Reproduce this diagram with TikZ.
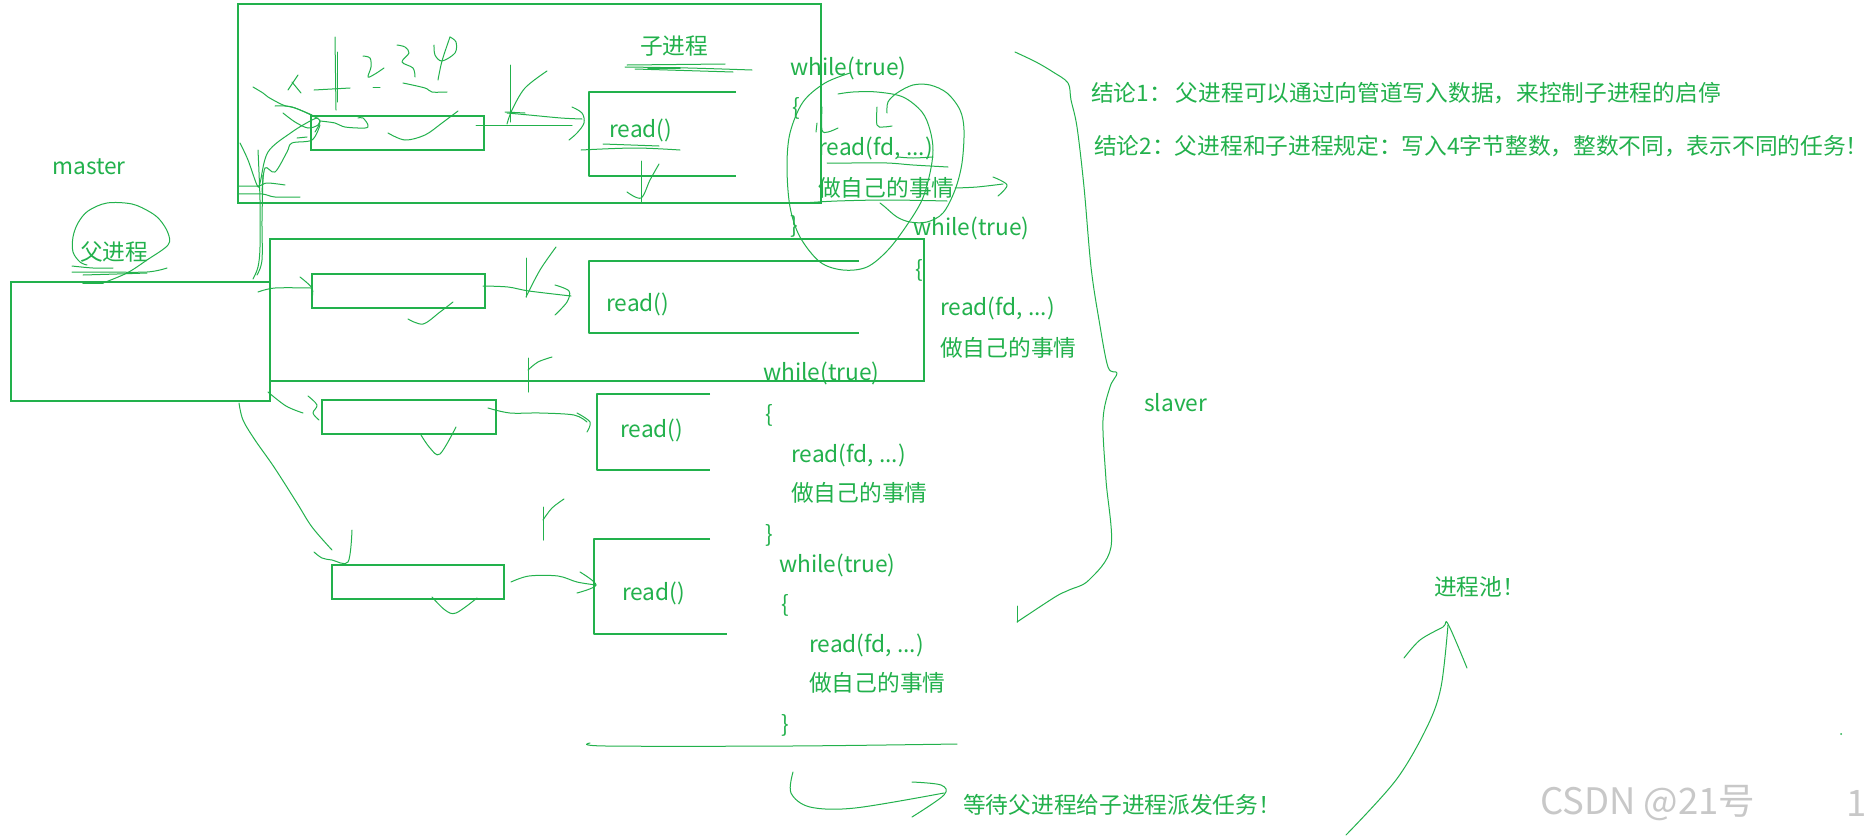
\documentclass[tikz,border=0pt]{standalone}
\usepackage{fontspec}
\setmainfont{Noto Sans CJK SC}
\definecolor{pgreen}{RGB}{34,177,76}
\definecolor{wmgray}{RGB}{200,200,200}
\newcommand{\fsz}{\fontsize{22.7}{27}\selectfont}
\tikzset{
  pen/.style={draw=pgreen, line width=1pt, line cap=round, line join=round},
  box/.style={draw=pgreen, line width=1.4pt, inner sep=0pt, outer sep=0pt, anchor=north west},
  txt/.style={text=pgreen, inner sep=0pt, anchor=west, font=\fsz},
  hs/.style={pen, smooth, tension=0.55},
}
\begin{document}
\begin{tikzpicture}[x=1pt,y=-1pt]
\useasboundingbox (0,0) rectangle (1869,836);
\fill[white] (0,0) rectangle (1869,836);

% ---------- boxes ----------
\node[box, minimum width=583pt, minimum height=199pt] (top) at (238,4) {};
\node[box, minimum width=654pt, minimum height=142pt] (mid) at (270,239) {};
\node[box, minimum width=259pt, minimum height=119pt] (parent) at (11,282) {};
\node[box, minimum width=173pt, minimum height=34pt] (s1) at (311,116) {};
\node[box, minimum width=173pt, minimum height=34pt] (s2) at (312,274) {};
\node[box, minimum width=174pt, minimum height=34pt] (s3) at (322,400) {};
\node[box, minimum width=172pt, minimum height=34pt] (s4) at (332,565) {};
\draw[pen, line width=1.4pt, line cap=butt] (736,92) -- (589,92) -- (589,176) -- (736,176);
\draw[pen, line width=1.4pt, line cap=butt] (859,261) -- (589,261) -- (589,333) -- (859,333);
\draw[pen, line width=1.4pt, line cap=butt] (710,394) -- (597,394) -- (597,470) -- (710,470);
\draw[pen, line width=1.4pt, line cap=butt] (710,539) -- (594,539) -- (594,634) -- (727,634);

% ---------- texts ----------
\node[txt] (master) at (52,167) {master};
\node[txt] (fu) at (80,252) {父进程};
\node[txt] (zi) at (640,46) {子进程};
\node[txt] (rd1) at (609,130) {read()};
\node[txt] (rd2) at (606,304) {read()};
\node[txt] (rd3) at (620,430) {read()};
\node[txt] (rd4) at (622,593) {read()};

\node[txt] (wa) at (790,68) {while(true)};
\node[txt] (wab) at (792,108) {\{};
\node[txt] (war) at (818,148) {read(fd, ...)};
\node[txt] (waz) at (818,188) {做自己的事情};
\node[txt] (wae) at (790,226) {\}};

\node[txt] (wb) at (913,228) {while(true)};
\node[txt] (wbb) at (915,270) {\{};
\node[txt] (wbr) at (940,308) {read(fd, ...)};
\node[txt] (wbz) at (940,348) {做自己的事情};

\node[txt] (wc) at (763,373) {while(true)};
\node[txt] (wcb) at (765,415) {\{};
\node[txt] (wcr) at (791,455) {read(fd, ...)};
\node[txt] (wcz) at (791,493) {做自己的事情};
\node[txt] (wce) at (765,535) {\}};

\node[txt] (wd) at (779,565) {while(true)};
\node[txt] (wdb) at (781,605) {\{};
\node[txt] (wdr) at (809,645) {read(fd, ...)};
\node[txt] (wdz) at (809,683) {做自己的事情};
\node[txt] (wde) at (781,725) {\}};

\node[txt] (slaver) at (1144,403) {slaver};
\node[txt] (c1) at (1091,93) {结论1：\hspace{4pt}父进程可以通过向管道写入数据，来控制子进程的启停};
\node[txt] (c2) at (1094,146) {结论2：父进程和子进程规定：写入4字节整数，整数不同，表示不同的任务！};
\node[txt] (pool) at (1434,587) {进程池！};
\node[txt] (wait) at (963,805) {等待父进程给子进程派发任务！};
\node[txt, text=wmgray, font=\fontsize{36.5}{40}\selectfont] (wm) at (1540,803) {CSDN @21号};
\node[txt, text=wmgray, font=\fontsize{36.5}{40}\selectfont] (wm1) at (1846,803) {1};

% ---------- parent circle and underlines ----------
\draw[hs] plot coordinates {(103,283) (127,273) (147,260) (168,245) (168,233) (160,220) (150,212) (132,204) (107,203) (88,211) (78,223) (73,237) (73,252) (80,262) (87,265)};
\draw[hs] plot coordinates {(72,266) (93,268) (113,268)};
\draw[hs] plot coordinates {(72,272) (100,272) (147,272) (167,268)};
\draw[hs] plot coordinates {(83,275) (117,274) (147,273)};
\draw[pen, line width=2pt] (83,283) -- (103,283);

% ---------- messy strokes in top box ----------
\draw[pen] (288,90) -- (298,75);
\draw[pen] (292,82) -- (301,93);
\draw[pen] (335,37) -- (336,110);
\draw[pen] (337,52) -- (337,102);
\draw[pen] (314,90) -- (350,88);
\draw[hs] plot coordinates {(363,56) (370,58) (371,67) (368,77) (375,74) (384,68)};
\draw[pen] (373,87) -- (380,87);
\draw[hs] plot coordinates {(397,45) (405,47) (409,53) (402,62) (413,68) (415,77)};
\draw[hs] plot coordinates {(403,83) (425,88) (432,92) (447,92)};
\draw[hs] plot coordinates {(434,45) (435,55) (442,61) (455,53) (456,42) (450,37)};
\draw[hs] plot coordinates {(450,37) (442,61) (438,80)};

\draw[hs] plot coordinates {(253,87) (263,93) (268,97) (283,105) (295,108) (312,115)};
\draw[hs] plot coordinates {(275,106) (292,107) (315,117) (320,122) (315,132)};
\draw[hs] plot coordinates {(283,113) (295,122) (308,128) (318,125) (320,120)};
\draw[hs] plot coordinates {(240,143) (248,160) (257,185) (260,183) (268,152) (292,132) (312,120) (318,118)};
\draw[hs] plot coordinates {(262,192) (265,168) (275,172) (287,152) (292,143) (312,140) (320,125)};
\draw[pen] (297,138) -- (307,137);
\draw[hs] plot coordinates {(238,186) (258,186) (267,183) (285,185)};
\draw[hs] plot coordinates {(238,194) (262,194) (275,197) (300,197)};
\draw[hs] plot coordinates {(258,150) (260,200) (260,247) (258,267) (253,279)};
\draw[hs] plot coordinates {(263,175) (262,220) (262,260) (257,275)};
\draw[hs] plot coordinates {(320,121) (335,123) (345,127) (365,128) (368,125) (363,118) (358,118)};
\draw[hs] plot coordinates {(388,133) (405,140) (425,135) (442,123) (458,111)};

% arrow s1 -> read box 1
\draw[pen] (476,125) -- (572,125);
\draw[hs] plot coordinates {(507,113) (529,115) (561,118) (582,119)};
\draw[hs] plot coordinates {(572,107) (582,113) (584,123) (577,133) (569,140)};
\draw[pen] (510,65) -- (510,122);
\draw[hs] plot coordinates {(507,124) (512,110) (525,88) (547,71)};
\draw[hs] plot coordinates {(505,112) (525,113)};
% down arrow under read()
\draw[pen] (641,161) -- (641,202);
\draw[hs] plot coordinates {(627,192) (641,198) (650,180) (659,164)};
% underlines 子进程 / read()
\draw[hs] plot coordinates {(625,67) (688,68) (752,70)};
\draw[hs] plot coordinates {(627,65) (725,64)};
\draw[hs] plot coordinates {(635,69) (733,72)};
\draw[pen, line width=1.8pt] (648,68) -- (680,68);
\draw[hs] plot coordinates {(603,144) (659,146)};
\draw[hs] plot coordinates {(581,150) (635,148) (680,150)};

% ---------- column 1 annotations ----------
\draw[hs] plot coordinates {(850,73) (825,83) (803,102) (790,133) (787,167) (790,207) (800,237) (820,262) (843,270) (867,267) (888,250) (907,225) (922,200) (930,173) (933,150) (930,130) (922,112) (903,97) (877,92) (853,92) (838,94)};
\draw[hs] plot coordinates {(887,113) (888,102) (897,93) (913,85) (930,85) (947,93) (960,110) (964,130) (962,163) (955,190) (943,213) (927,222) (910,222) (897,217) (885,207) (880,203)};
\draw[hs] plot coordinates {(822,107) (822,130) (828,132) (838,128)};
\draw[pen] (817,123) -- (816,132);
\draw[hs] plot coordinates {(877,107) (877,125) (883,127) (892,126)};
\draw[hs] plot coordinates {(827,163) (850,163) (887,163) (913,165) (948,167)};
\draw[hs] plot coordinates {(898,157) (913,158) (933,157)};
\draw[hs] plot coordinates {(803,203) (837,201) (888,200) (947,201)};
\draw[hs] plot coordinates {(955,188) (977,187) (1003,184)};
\draw[hs] plot coordinates {(993,177) (1007,185) (998,196)};

% ---------- row 2 ----------
\draw[hs] plot coordinates {(258,292) (275,288) (311,288)};
\draw[hs] plot coordinates {(300,277) (312,288) (312,298)};
\draw[hs] plot coordinates {(483,286) (508,287) (529,291) (571,296)};
\draw[hs] plot coordinates {(555,285) (569,291) (567,302) (555,315)};
\draw[pen] (526,258) -- (526,297);
\draw[hs] plot coordinates {(526,297) (540,270) (556,247)};
\draw[hs] plot coordinates {(408,319) (423,324) (440,312) (453,302)};
\draw[pen] (528,358) -- (528,392);
\draw[hs] plot coordinates {(528,370) (538,362) (552,357)};

% ---------- row 3 ----------
\draw[hs] plot coordinates {(268,392) (286,406) (303,413)};
\draw[hs] plot coordinates {(308,396) (317,405) (313,413) (319,420)};
\draw[hs] plot coordinates {(488,408) (510,413) (540,413) (574,415) (587,422)};
\draw[hs] plot coordinates {(577,413) (590,422) (587,432)};
\draw[hs] plot coordinates {(421,435) (430,448) (440,454) (456,427)};
\draw[pen] (543,507) -- (543,540);
\draw[hs] plot coordinates {(543,520) (552,508) (564,499)};

% ---------- row 4 ----------
\draw[hs] plot coordinates {(239,403) (243,420) (255,440) (274,467) (297,503) (312,527) (332,550)};
\draw[hs] plot coordinates {(314,552) (322,558) (332,560) (348,562) (352,530)};
\draw[hs] plot coordinates {(511,582) (529,576) (558,576) (577,582) (596,585)};
\draw[hs] plot coordinates {(580,572) (596,585) (577,593)};
\draw[hs] plot coordinates {(432,597) (445,610) (456,613) (477,598)};

% ---------- bottom ----------
\draw[hs] plot coordinates {(590,743) (606,746) (791,746) (957,744)};
\draw[hs] plot coordinates {(793,772) (791,793) (810,807) (855,808) (944,793)};
\draw[hs] plot coordinates {(912,782) (941,785) (944,795) (912,817)};

% ---------- big brace ----------
\draw[hs] plot coordinates {(1015,52) (1036,62) (1053,72) (1068,83) (1071,100) (1077,127) (1084,187) (1091,267) (1099,320) (1108,367) (1117,373) (1110,387) (1103,420) (1106,480) (1111,547) (1089,580) (1069,590) (1055,597) (1017,622)};
\draw[pen] (1017,606) -- (1017,622);

% ---------- process pool arrow ----------
\draw[hs] plot coordinates {(1346,835) (1396,780) (1427,727) (1441,687) (1448,625)};
\draw[hs] plot coordinates {(1404,658) (1420,640) (1443,627) (1448,624) (1467,668)};
\fill[pgreen] (1841,734) circle (1pt);
\end{tikzpicture}
\end{document}
